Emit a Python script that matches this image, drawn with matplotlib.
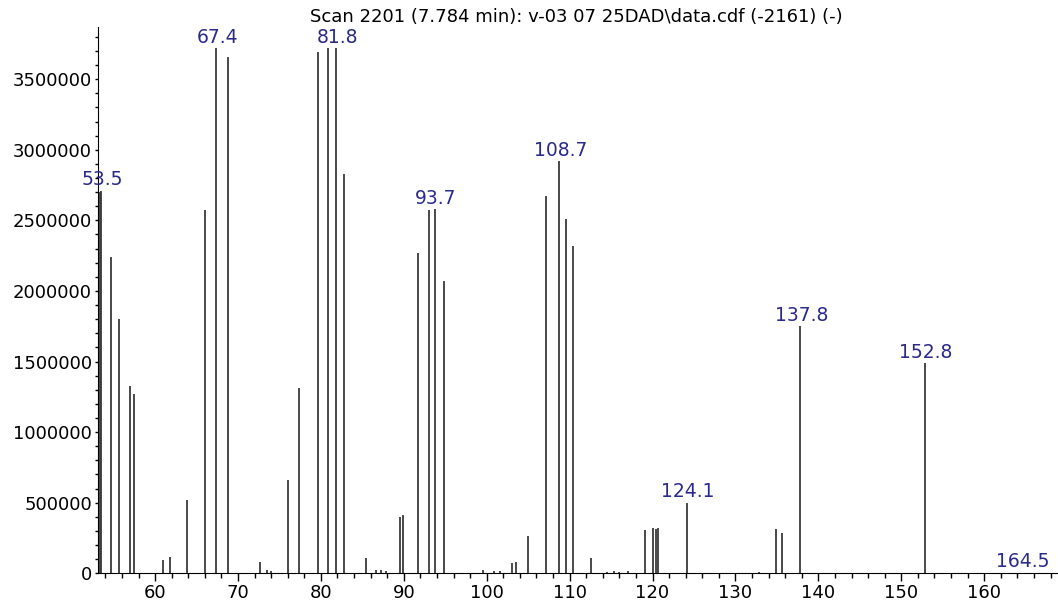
import matplotlib
matplotlib.use("Agg")
import matplotlib.pyplot as plt
from matplotlib.ticker import MultipleLocator, FormatStrFormatter

# m/z values and intensities
mz = [53.15, 53.3, 53.5, 54.7, 55.7, 57.0, 57.5, 61.0, 61.8, 63.9,
      66.0, 67.4, 68.8, 72.6, 73.5, 74.0, 76.0, 77.4, 79.6, 80.9,
      81.8, 82.8, 85.4, 86.7, 87.3, 87.8, 89.5, 89.9, 91.7, 93.0,
      93.7, 94.9, 99.5, 100.9, 101.6, 103.0, 103.5, 105.0, 107.1, 108.7,
      109.6, 110.4, 112.6, 114.5, 115.3, 116.0, 117.0, 119.1, 120.0, 120.4,
      120.7, 124.1, 132.8, 134.9, 135.6, 137.8, 152.8, 164.5]
intensity = [430000, 2700000, 2710000, 2240000, 1800000, 1330000, 1270000, 95000, 115000, 520000,
             2570000, 3720000, 3660000, 82000, 20000, 15000, 660000, 1310000, 3690000, 3720000,
             3720000, 2830000, 110000, 20000, 20000, 15000, 400000, 415000, 2270000, 2570000,
             2580000, 2070000, 25000, 15000, 15000, 70000, 78000, 263000, 2670000, 2920000,
             2510000, 2320000, 106000, 12000, 15000, 10000, 15000, 306000, 322000, 315000,
             322000, 499000, 8000, 311000, 282000, 1750000, 1490000, 5000]

labelled = [53.5, 67.4, 81.8, 93.7, 108.7, 124.1, 137.8, 152.8, 164.5]

title = "Scan 2201 (7.784 min): v-03 07 25DAD\\data.cdf (-2161) (-)"

plt.rcParams["font.family"] = "DejaVu Sans"

fig = plt.figure(figsize=(10.58, 6.05), dpi=100)
ax = fig.add_axes([0.0922, 0.0524, 0.9078, 0.903])

ax.vlines(mz, 0, intensity, color="#3a3a3a", linewidth=1.3)

for m in labelled:
    h = intensity[mz.index(m)]
    ax.annotate(f"{m:.1f}", (m, h), xytext=(1, 1), textcoords="offset points",
                ha="center", va="bottom", color="#2a2a8c", fontsize=13.5)

ax.set_xlim(53.06, 168.9)
ax.set_ylim(0, 3870000)

ax.xaxis.set_major_locator(MultipleLocator(10))
ax.xaxis.set_minor_locator(MultipleLocator(2))
ax.yaxis.set_major_locator(MultipleLocator(500000))
ax.yaxis.set_minor_locator(MultipleLocator(100000))
ax.yaxis.set_major_formatter(FormatStrFormatter("%d"))

ax.spines["top"].set_visible(False)
ax.spines["right"].set_visible(False)
ax.tick_params(axis="x", which="major", length=6, width=1, labelsize=13, pad=2)
ax.tick_params(axis="x", which="minor", length=3.5, width=1)
ax.tick_params(axis="y", which="major", length=2.5, width=1, labelsize=13, pad=1.5)
ax.tick_params(axis="y", which="minor", length=2, width=1)

fig.text(0.545, 0.972, title, ha="center", va="center", fontsize=13)

fig.savefig("out.png", dpi=100)
